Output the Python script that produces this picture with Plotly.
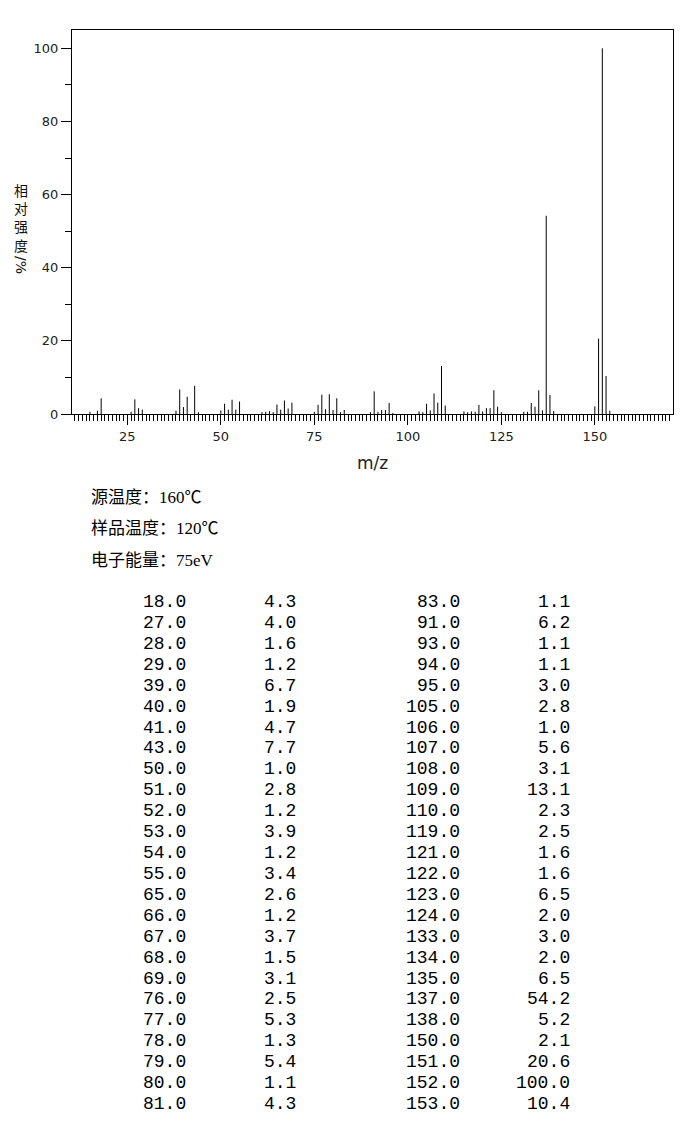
import plotly.graph_objects as go

# peaks listed in the table (m/z, relative intensity %)
mz = [18, 27, 28, 29, 39, 40, 41, 43, 50, 51, 52, 53, 54, 55, 65, 66, 67, 68, 69,
      76, 77, 78, 79, 80, 81, 83, 91, 93, 94, 95, 105, 106, 107, 108, 109, 110,
      119, 121, 122, 123, 124, 133, 134, 135, 137, 138, 150, 151, 152, 153]
intensity = [4.3, 4.0, 1.6, 1.2, 6.7, 1.9, 4.7, 7.7, 1.0, 2.8, 1.2, 3.9, 1.2, 3.4,
             2.6, 1.2, 3.7, 1.5, 3.1, 2.5, 5.3, 1.3, 5.4, 1.1, 4.3, 1.1, 6.2, 1.1,
             1.1, 3.0, 2.8, 1.0, 5.6, 3.1, 13.1, 2.3, 2.5, 1.6, 1.6, 6.5, 2.0, 3.0,
             2.0, 6.5, 54.2, 5.2, 2.1, 20.6, 100.0, 10.4]

# small peaks only visible in the spectrum (estimated)
minor_mz = [15, 17, 26, 38, 44, 61, 62, 63, 64, 75, 82, 90, 92, 96, 103, 104,
            115, 116, 117, 118, 120, 125, 131, 132, 136, 139, 154]
minor_int = [0.6, 0.9, 0.6, 0.9, 0.5, 0.5, 0.6, 0.8, 0.5, 0.6, 0.5, 0.5, 0.6, 0.3,
             0.7, 0.5, 0.7, 0.5, 0.7, 0.6, 0.7, 0.5, 0.6, 0.6, 1.0, 0.8, 0.9]

info_lines = ["源温度：160℃", "样品温度：120℃", "电子能量：75eV"]
y_title = "相<br>对<br>强<br>度"

# page has an 8px body margin, so the figure is drawn 8px in from the corner
OFF = 8
W, H = 696 - OFF, 1134 - OFF
L, R, T, B = 72 - OFF, 673 - OFF, 30 - OFF, 414 - OFF


def px_x(px):
    return (px - OFF - L) / (R - L)


def px_y(py):
    return (B - (py - OFF)) / (B - T)


def sticks(xs, ys):
    sx, sy = [], []
    for a, b in zip(xs, ys):
        sx += [a, a, None]
        sy += [0, b, None]
    return sx, sy


all_x, all_y = sticks(mz + minor_mz, intensity + minor_int)

fig = go.Figure()
fig.add_trace(go.Scatter(x=all_x, y=all_y, mode="lines",
                         line=dict(color="black", width=1), hoverinfo="skip"))

tickfont = dict(family="DejaVu Sans", size=13, color="#222")
fig.update_xaxes(range=[10.2, 170.9], tick0=0, dtick=25, ticks="outside", ticklen=10,
                 tickcolor="black", showline=True, linecolor="black", mirror=True,
                 showgrid=False, zeroline=False, tickfont=tickfont,
                 minor=dict(dtick=1, tick0=0, ticks="outside", ticklen=6, tickcolor="black"),
                 title=dict(text="m/z", font=dict(family="DejaVu Sans", size=17, color="#222"),
                            standoff=14))
fig.update_yaxes(range=[0, 105], tick0=0, dtick=20, ticks="outside", ticklen=10,
                 tickcolor="black", showline=True, linecolor="black", mirror=True,
                 showgrid=False, zeroline=False, tickfont=tickfont,
                 minor=dict(dtick=10, tick0=0, ticks="outside", ticklen=6, tickcolor="black"))

cjk = "Noto Sans CJK SC"
ann = [
    dict(x=px_x(21), y=px_y(217), text=y_title, showarrow=False,
         xref="paper", yref="paper", xanchor="center", yanchor="middle",
         font=dict(family=cjk, size=14, color="#111")),
    dict(x=px_x(21), y=px_y(265), text="/%", showarrow=False, textangle=90,
         xref="paper", yref="paper", xanchor="center", yanchor="middle",
         font=dict(family="DejaVu Sans", size=14, color="#111")),
]

for i, line in enumerate(info_lines):
    ann.append(dict(x=px_x(89), y=px_y(497 + i * 31.5), text=line, showarrow=False,
                    xref="paper", yref="paper", xanchor="left", yanchor="middle",
                    font=dict(family="Liberation Serif, " + cjk, size=17, color="black")))

n_rows = 25
col_right = [188, 298, 462, 572]
mono = dict(family="Liberation Mono, Courier New, monospace", size=18, color="black")
for i in range(len(mz)):
    half, r = divmod(i, n_rows)
    y = px_y(602 + r * 20.92)
    ann.append(dict(x=px_x(col_right[2 * half]), y=y, text=f"{mz[i]:.1f}", showarrow=False,
                    xref="paper", yref="paper", xanchor="right", yanchor="middle", font=mono))
    ann.append(dict(x=px_x(col_right[2 * half + 1]), y=y, text=f"{intensity[i]:.1f}",
                    showarrow=False, xref="paper", yref="paper", xanchor="right",
                    yanchor="middle", font=mono))

fig.update_layout(width=W, height=H, margin=dict(l=L, r=W - R, t=T, b=H - B),
                  plot_bgcolor="white", paper_bgcolor="white", showlegend=False,
                  annotations=ann)

fig.write_html("out.html")
